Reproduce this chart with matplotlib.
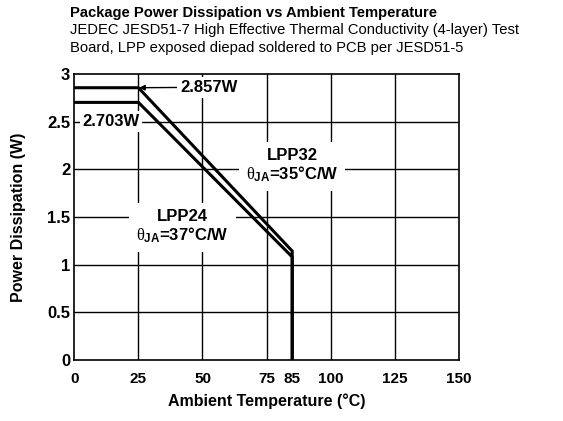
import matplotlib
matplotlib.use("Agg")
import matplotlib.pyplot as plt

plt.rcParams['font.family'] = ['Liberation Sans', 'DejaVu Sans']
plt.rcParams['mathtext.fontset'] = 'custom'
plt.rcParams['mathtext.rm'] = 'Liberation Sans'
plt.rcParams['mathtext.bf'] = 'Liberation Sans:bold'
plt.rcParams['mathtext.it'] = 'Liberation Serif'

# Data
temp_lpp32 = [0, 25, 85, 85]
pd_lpp32 = [2.857, 2.857, 1.143, 0]
temp_lpp24 = [0, 25, 85, 85]
pd_lpp24 = [2.703, 2.703, 1.081, 0]
xticks = [0, 25, 50, 75, 85, 100, 125, 150]
yticks = [0, 0.5, 1, 1.5, 2, 2.5, 3]
ytick_labels = ['0', '0.5', '1', '1.5', '2', '2.5', '3']

fig = plt.figure(figsize=(5.63, 4.21), dpi=100)
ax = fig.add_axes([0.132, 0.145, 0.683, 0.679])

# grid
for x in [25, 50, 75, 100, 125]:
    ax.axvline(x, color='black', lw=1.0, zorder=1)
for y in [0.5, 1, 1.5, 2, 2.5]:
    ax.axhline(y, color='black', lw=1.0, zorder=1)

ax.plot(temp_lpp32, pd_lpp32, color='black', lw=2.2, zorder=3, solid_joinstyle='miter')
ax.plot(temp_lpp24, pd_lpp24, color='black', lw=2.2, zorder=3, solid_joinstyle='miter')

ax.set_xlim(0, 150)
ax.set_ylim(0, 3)
ax.set_xticks(xticks)
ax.set_xticklabels([str(x) for x in xticks], fontweight='bold', fontsize=11)
ax.set_yticks(yticks)
ax.set_yticklabels(ytick_labels, fontweight='bold', fontsize=12)
ax.tick_params(axis='x', length=0, pad=9)
ax.tick_params(axis='y', length=0, pad=3)
for s in ax.spines.values():
    s.set_linewidth(1.2)

ax.set_xlabel('Ambient Temperature (°C)', fontweight='bold', fontsize=11.5, labelpad=5)
ax.set_ylabel('Power Dissipation (W)', fontweight='bold', fontsize=11.5, labelpad=15)

ax.annotate('2.857W', xy=(25.3, 2.857), xytext=(41.3, 2.862),
            ha='left', va='center', fontsize=12, fontweight='bold',
            bbox=dict(facecolor='white', edgecolor='none', pad=2),
            arrowprops=dict(arrowstyle='-|>', color='black', lw=1.0, mutation_scale=8,
                            shrinkA=0, shrinkB=0), zorder=4)
ax.text(14.3, 2.5, '2.703W', ha='center', va='center', fontsize=12, fontweight='bold',
        bbox=dict(facecolor='white', edgecolor='none', pad=2), zorder=4)
ax.text(85, 2.04, 'LPP32\n' + r'$\theta_{\mathbf{JA}}$' + '=35°C/W', ha='center', va='center',
        fontsize=12, fontweight='bold', linespacing=1.1,
        bbox=dict(facecolor='white', edgecolor='none', pad=5), zorder=4)
ax.text(42.2, 1.40, 'LPP24\n' + r'$\theta_{\mathbf{JA}}$' + '=37°C/W', ha='center', va='center',
        fontsize=12, fontweight='bold', linespacing=1.1,
        bbox=dict(facecolor='white', edgecolor='none', pad=5), zorder=4)

fig.text(0.124, 0.968, 'Package Power Dissipation vs Ambient Temperature',
         fontsize=10.6, fontweight='bold', va='center')
fig.text(0.124, 0.929, 'JEDEC JESD51-7 High Effective Thermal Conductivity (4-layer) Test',
         fontsize=10.6, va='center')
fig.text(0.124, 0.886, 'Board, LPP exposed diepad soldered to PCB per JESD51-5',
         fontsize=10.6, va='center')

fig.savefig('out.png', dpi=100)
